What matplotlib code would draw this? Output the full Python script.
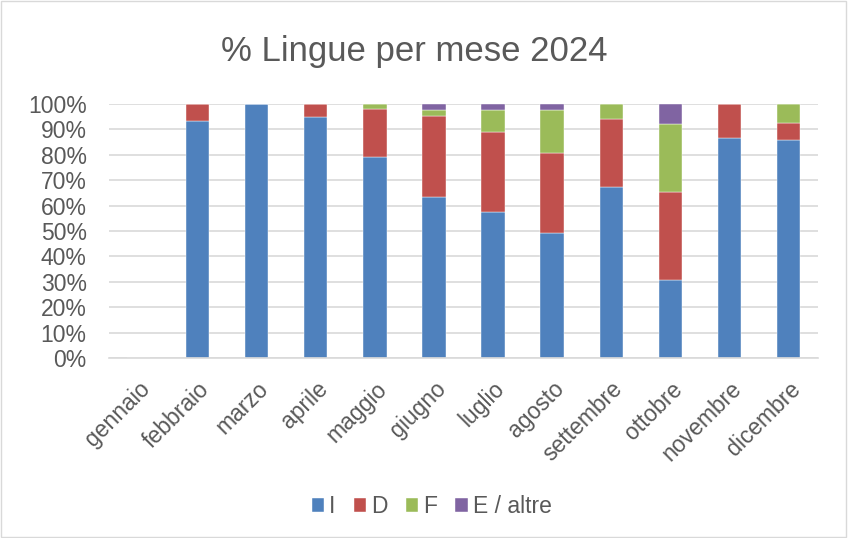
import matplotlib.pyplot as plt
import numpy as np
from matplotlib.ticker import PercentFormatter
from matplotlib.patches import Rectangle

plt.rcParams['font.family'] = ['Liberation Sans', 'DejaVu Sans']

# data (percent per month)
months = ["gennaio", "febbraio", "marzo", "aprile", "maggio", "giugno",
          "luglio", "agosto", "settembre", "ottobre", "novembre", "dicembre"]
lang_I = [0, 93.3, 100, 94.7, 79.1, 63.2, 57.4, 49.3, 67.5, 30.6, 86.6, 85.7]
lang_D = [0, 6.7, 0, 5.3, 18.9, 31.9, 31.6, 31.6, 26.6, 34.7, 13.4, 7.0]
lang_F = [0, 0, 0, 0, 2.0, 2.5, 8.8, 16.9, 5.9, 26.9, 0, 7.3]
lang_E = [0, 0, 0, 0, 0, 2.4, 2.2, 2.2, 0, 7.8, 0, 0]

series = [("I", lang_I, "#4F81BD"),
          ("D", lang_D, "#C0504D"),
          ("F", lang_F, "#9BBB59"),
          ("E / altre", lang_E, "#8064A2")]

text_col = "#595959"

fig = plt.figure(figsize=(8.48, 5.38), dpi=100)
ax = fig.add_axes([0.1285, 0.3346, 0.8361, 0.4721])

x = np.arange(len(months))
bottom = np.zeros(len(months))
for name, vals, col in series:
    vals = np.array(vals)
    ax.bar(x, vals, 0.395, bottom=bottom, color=col, label=name,
           edgecolor="white", linewidth=0.3, zorder=3)
    bottom += vals

ax.set_xlim(-0.5, len(months) - 0.5)
ax.set_ylim(0, 100)
ax.set_yticks(np.arange(0, 101, 10))
ax.yaxis.set_major_formatter(PercentFormatter(decimals=0))
ax.grid(axis="y", color="#D9D9D9", linewidth=1.2, zorder=0)
for s in ["top", "right", "left"]:
    ax.spines[s].set_visible(False)
ax.spines["bottom"].set_color("#D9D9D9")
ax.spines["bottom"].set_linewidth(1.2)
ax.spines["bottom"].set_zorder(4)
ax.tick_params(axis="both", length=0, labelsize=16.5, colors=text_col)
ax.tick_params(axis="y", pad=16)
ax.tick_params(axis="x", pad=14)

ax.set_xticks(x)
ax.set_xticklabels(months, rotation=45, ha="right", rotation_mode="anchor")

fig.text(0.488, 0.905, "% Lingue per mese 2024", ha="center", va="center",
         fontsize=25, color=text_col)

leg = fig.legend(loc="center", bbox_to_anchor=(0.509, 0.058), ncol=4,
                 frameon=False, fontsize=16.5, handlelength=0.55, handleheight=0.55,
                 handletextpad=0.2, columnspacing=0.8)
for t in leg.get_texts():
    t.set_color(text_col)

# light chart border
fig.patches.append(Rectangle((0.001, 0.001), 0.997, 0.997, transform=fig.transFigure,
                             fill=False, edgecolor="#D9D9D9", linewidth=1))

fig.savefig("out.png", dpi=100)
